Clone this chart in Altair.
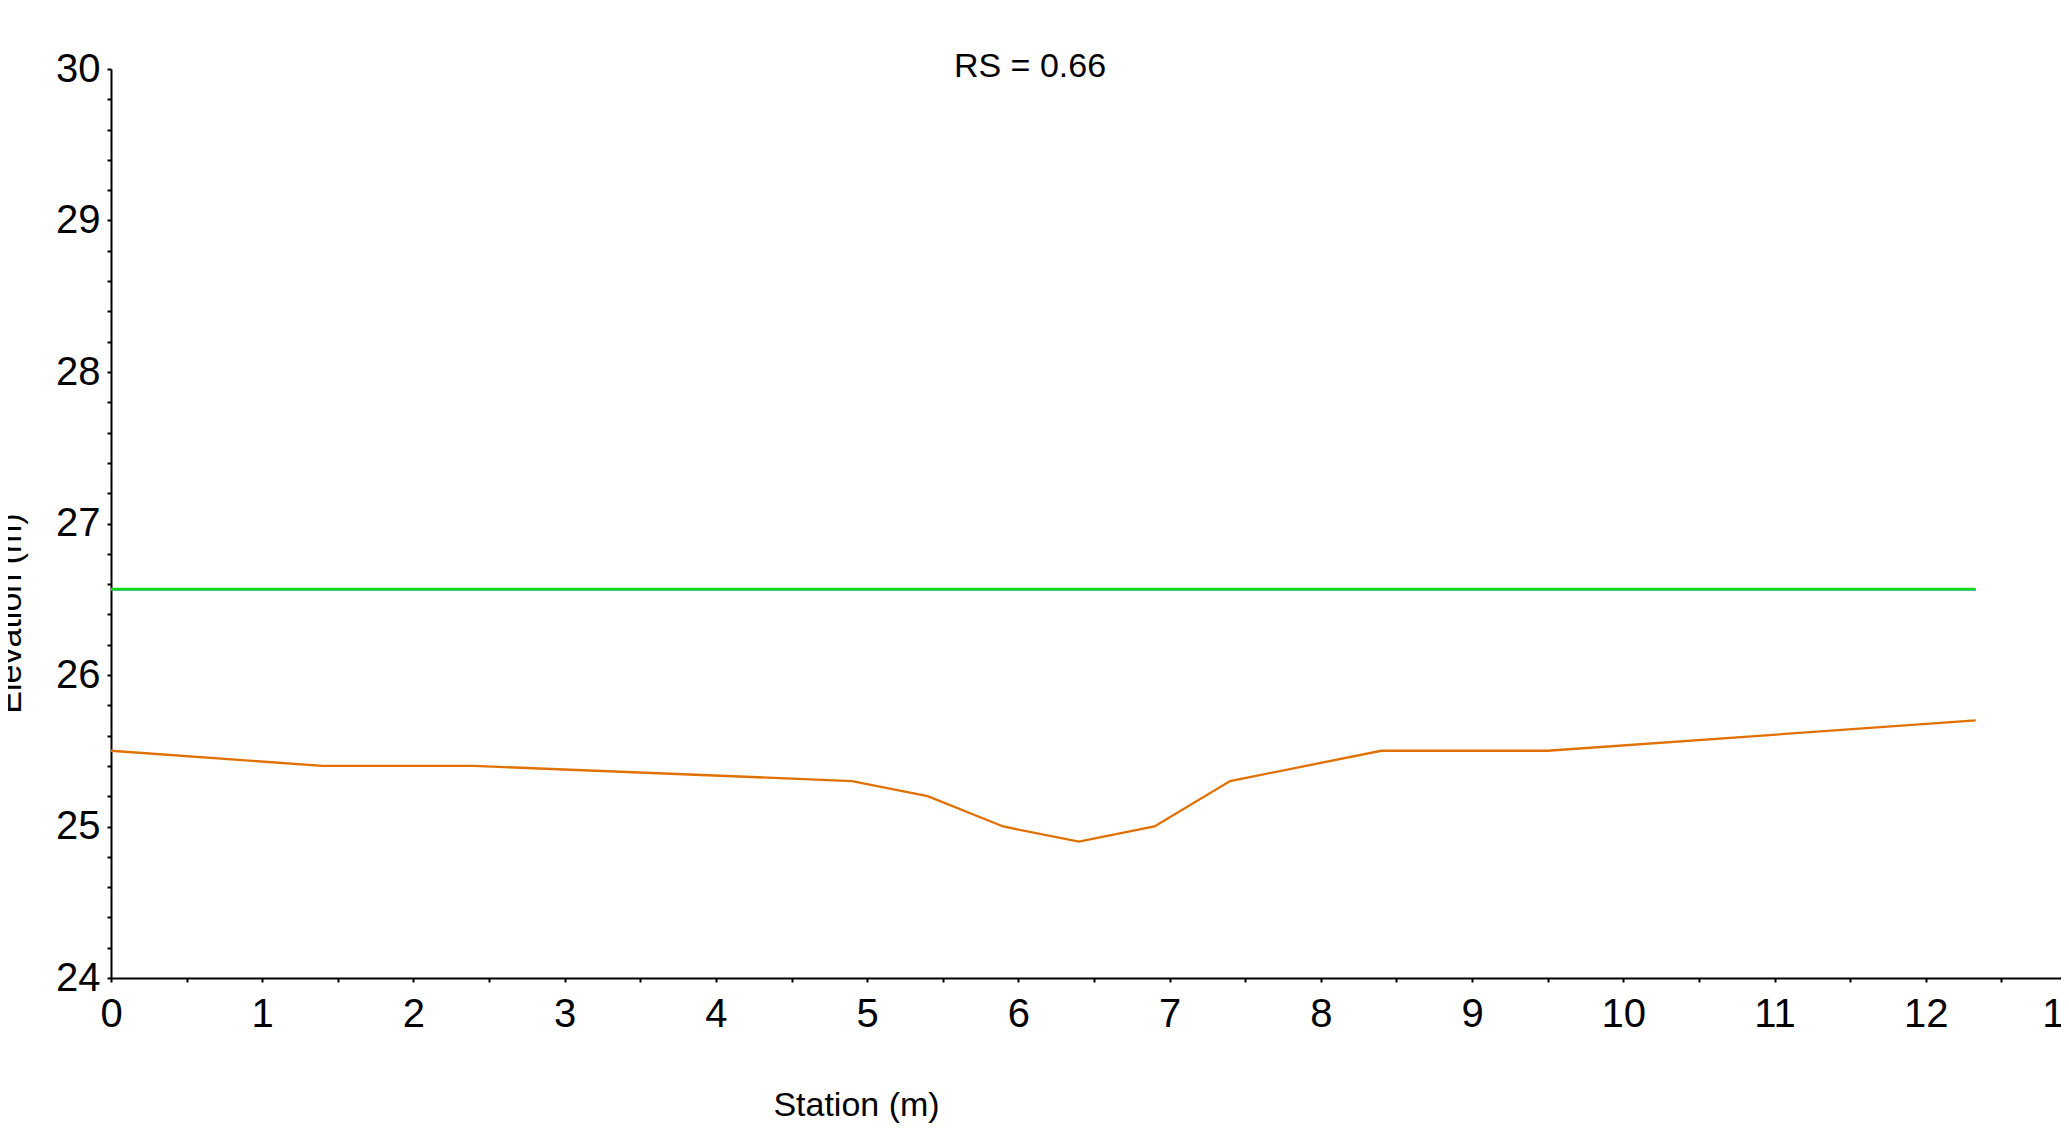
import altair as alt
import pandas as pd

# Ground profile (orange)
stations = [0, 1.4, 2.4, 4.9, 5.4, 5.9, 6.4, 6.9, 7.4, 8.4, 9.5, 12.33]
ground = [25.5, 25.4, 25.4, 25.3, 25.2, 25.0, 24.9, 25.0, 25.3, 25.5, 25.5, 25.7]

# Water surface (blue) and energy grade (green)
wl_stations = [0, 12.33]
ws_elev = [26.562, 26.562]
eg_elev = [26.567, 26.567]

x_ticks = [0, 0.5, 1, 1.5, 2, 2.5, 3, 3.5, 4, 4.5, 5, 5.5, 6, 6.5, 7, 7.5,
           8, 8.5, 9, 9.5, 10, 10.5, 11, 11.5, 12, 12.5, 13]
y_ticks = [24, 24.2, 24.4, 24.6, 24.8, 25, 25.2, 25.4, 25.6, 25.8, 26, 26.2,
           26.4, 26.6, 26.8, 27, 27.2, 27.4, 27.6, 27.8, 28, 28.2, 28.4, 28.6,
           28.8, 29, 29.2, 29.4, 29.6, 29.8, 30]

FONT = "Liberation Sans"

ground_df = pd.DataFrame({"station": stations, "elev": ground})
ws_df = pd.DataFrame({"station": wl_stations, "elev": ws_elev})
eg_df = pd.DataFrame({"station": wl_stations, "elev": eg_elev})

int_label = "abs(datum.value - round(datum.value)) < 0.001 ? format(datum.value, 'd') : ''"

x_enc = alt.X(
    "station:Q",
    scale=alt.Scale(domain=[0, 13], range=[0, 1966], nice=False, zero=False),
    axis=alt.Axis(
        values=x_ticks,
        labelExpr=int_label,
        labelFlush=False,
        labelOverlap=False,
        labelBound=False,
        labelOffset={"condition": {"test": "datum.value == 13", "value": -13}, "value": 0},
        grid=False,
        domainColor="black",
        domainWidth=2,
        tickColor="black",
        tickWidth=2,
        tickSize=4,
        labelFont=FONT,
        labelFontSize=40,
        labelColor="black",
        labelPadding=12,
        title="Station (m)",
        titleFont=FONT,
        titleFontSize=34,
        titleFontWeight="normal",
        titleColor="black",
        titleX=745,
        titleY=137,
        titleAlign="center",
        titleBaseline="alphabetic",
    ),
)

y_enc = alt.Y(
    "elev:Q",
    scale=alt.Scale(domain=[24, 30], nice=False, zero=False),
    axis=alt.Axis(
        values=y_ticks,
        labelExpr=int_label,
        labelOverlap=False,
        labelFlush=False,
        grid=False,
        domainColor="black",
        domainWidth=2,
        tickColor="black",
        tickWidth=2,
        tickSize=4,
        labelFont=FONT,
        labelFontSize=40,
        labelColor="black",
        labelPadding=7,
        title="Elevation (m)",
        titleFont=FONT,
        titleFontSize=34,
        titleFontWeight="normal",
        titleColor="black",
        titleAngle=270,
        titleX=-91,
        titleY=544,
        titleAlign="center",
        titleBaseline="alphabetic",
    ),
)

ground_line = alt.Chart(ground_df).mark_line(color="#E07000", strokeWidth=2.3).encode(
    x=x_enc, y=y_enc, order="station:Q"
)
ws_line = alt.Chart(ws_df).mark_line(color="#3C8CE6", strokeWidth=2).encode(
    x=x_enc, y=y_enc
)
eg_line = alt.Chart(eg_df).mark_line(color="#10D818", strokeWidth=2.6).encode(
    x=x_enc, y=y_enc
)

chart = (
    alt.layer(ground_line, ws_line, eg_line)
    .properties(
        width=1950,
        height=909,
        autosize="none",
        padding={"left": 103, "top": 61, "right": 0, "bottom": 150},
        view=alt.ViewBackground(stroke="transparent", strokeWidth=0, fill="white"),
        title=alt.TitleParams(
            "RS = 0.66",
            anchor="middle",
            frame="group",
            dx=-56,
            offset=-62,
            font=FONT,
            fontSize=34,
            fontWeight="normal",
            color="black",
            baseline="alphabetic",
        ),
    )
    .configure_view(strokeWidth=0, stroke="transparent")
    .configure(background="white")
)

chart.save("out.html", embed_options={"renderer": "svg", "actions": False})
